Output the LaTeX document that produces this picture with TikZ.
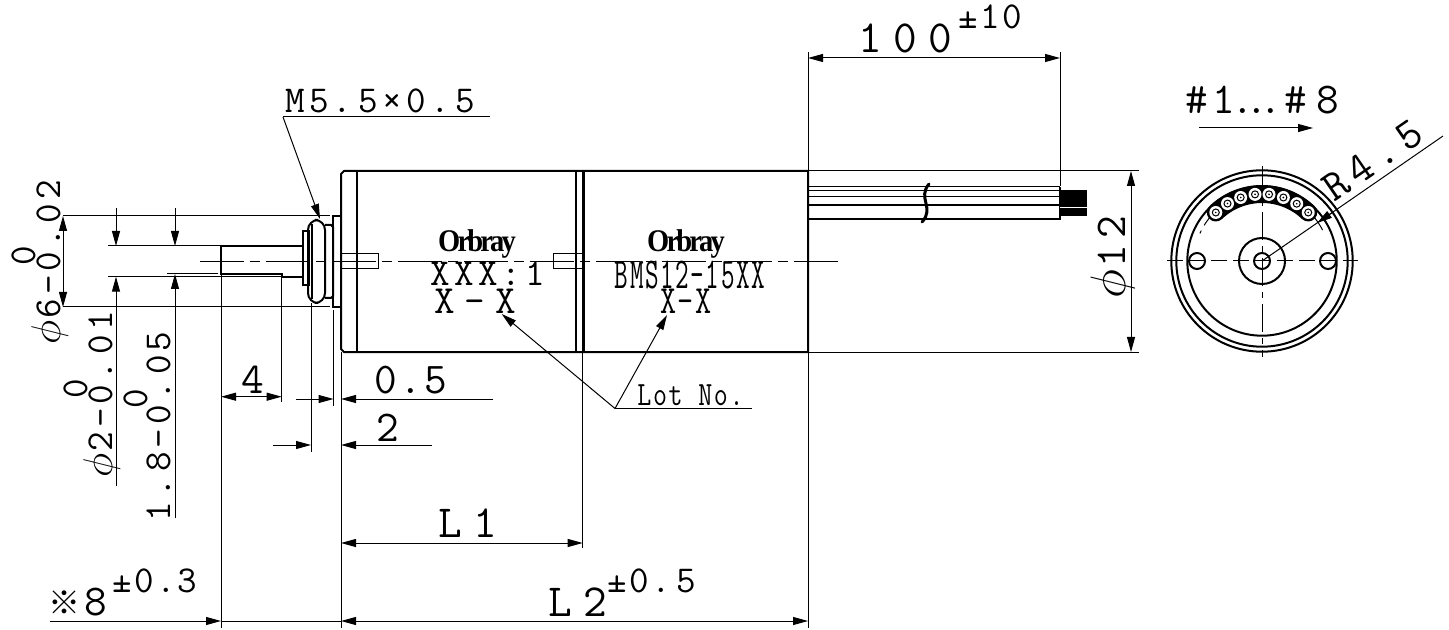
\documentclass[tikz,border=0pt]{standalone}
\usepackage{fontspec}
\usetikzlibrary{arrows.meta}
\newfontfamily\logofont[LetterSpace=-10]{Liberation Serif}
\newfontfamily\markfont{Noto Sans CJK JP}
\newfontfamily\cadfont[LetterSpace=6]{lmmono12-regular.otf}
\newfontfamily\cadside[LetterSpace=11]{lmmono12-regular.otf}
\newfontfamily\cadmid[LetterSpace=15]{lmmono12-regular.otf}
\newfontfamily\cadwide[LetterSpace=25]{lmmono12-regular.otf}
\newcommand{\diasign}{\scalebox{1.2}{$\phi$}\kern1pt}
\tikzset{
  outline/.style={black, line width=1pt},
  thinline/.style={black, line width=0.5pt},
  wireline/.style={black, line width=0.8pt},
  centerline/.style={black, line width=0.4pt, dash pattern=on 22pt off 3pt on 5pt off 3pt},
  dimtext/.style={font=\cadfont\fontsize{22}{22}\selectfont, inner sep=0pt},
  midtext/.style={font=\cadmid\fontsize{22}{22}\selectfont, inner sep=0pt},
  widetext/.style={font=\cadwide\fontsize{23}{23}\selectfont, inner sep=0pt},
  sidetext/.style={font=\cadside\fontsize{19}{19}\selectfont, inner sep=0pt},
  toltext/.style={font=\cadfont\fontsize{19}{19}\selectfont, inner sep=0pt},
  logotext/.style={font=\logofont\bfseries\fontsize{15}{15}\selectfont, inner sep=0pt},
  >={Triangle[length=7.5pt,width=4pt]}
}
\begin{document}
\begin{tikzpicture}[x=0.5pt, y=-0.5pt]
            \useasboundingbox (0,0) rectangle (1449,630);
            % motor body
            \draw[outline] (344,171) -- (341,174) -- (341,349) -- (344,352) -- (808,352) -- (808,171) -- cycle;
            \draw[outline] (357,171) -- (357,352);
            \draw[outline] (575.7,171) -- (575.7,352);
            \draw[outline] (584,171) -- (584,352);
            \draw[thinline] (582.7,171) -- (582.7,548);
            \draw[thinline] (341,254) rectangle (378,269);
            \draw[thinline] (553,254) rectangle (583,269);
            % shaft and nut
            \draw[outline] (303,246) -- (221,246) -- (221,274) -- (281.7,274) -- (281.7,277) -- (303,277);
            \draw[line width=1.4pt] (221,246) -- (221,274);
            \draw[outline] (303,231) rectangle (309,285);
            \draw[outline, rounded corners=5] (308,220) rectangle (325,303);
            \draw[outline] (312,224) -- (312,299);
            \draw[outline] (325,225) -- (331,225) -- (333,227) -- (333,296) -- (331,298) -- (325,298);
            \draw[outline] (333,216) rectangle (341,307);
            % lead wires
            \draw[wireline] (808,186.7) -- (1060,186.7);
            \draw[wireline] (808,190.7) -- (1060,190.7);
            \draw[wireline] (808,196.7) -- (1060,196.7);
            \draw[wireline] (808,205) -- (1060,205);
            \draw[wireline] (808,219) -- (1060,219) -- (1060,186.7);
            \fill[black] (1060,190) rectangle (1087,216);
            \draw[white, line width=0.5pt] (1060,207.5) -- (1087,207.5);
            \draw[black, line width=1.5pt, line cap=round] (929,184) .. controls (917,198) and (935,208) .. (922,222);
            % centre line
            \draw[centerline] (200,261.5) -- (838,261.5);
            % texts on the body
            \node[logotext] (logoa) at (477,244) {\scalebox{0.95}[1.05]{Orbray}};
            \node[logotext] (logob) at (686,244) {\scalebox{0.95}[1.05]{Orbray}};
            \node[sidetext] (ratio) at (488,274) {XXX:1};
            \node[font=\cadwide\fontsize{20}{20}\selectfont, inner sep=0pt] (lota) at (475,301) {X–X};
            \node[dimtext] (model) at (690,275) {\scalebox{0.6}[1]{BMS12–15XX}};
            \node[font=\cadfont\fontsize{20}{20}\selectfont, inner sep=0pt] (lotb) at (686,301) {\scalebox{0.78}[1]{X-X}};
            % lot number leaders
            \coordinate (lot) at (615,408.5);
            \node[font=\cadfont\fontsize{17}{17}\selectfont, inner sep=0pt, anchor=base west] (lotno) at (637,405) {\scalebox{0.8}[1]{Lot No.}};
            \draw[thinline] (lot) -- (752,408.5);
            \draw[thinline, ->] (lot) -- (501.7,314);
            \draw[thinline, ->] (lot) -- (667,315);
            % thread leader
            \coordinate (thread) at (283,117);
            \node[sidetext, anchor=base west] (threadlabel) at (285,113) {M5.\,5×0.\,5};
            \draw[thinline] (thread) -- (490,117);
            \draw[thinline, ->] (thread) -- (320,219);
            % extension lines
            \draw[thinline] (63,216) -- (330,216);
            \draw[thinline] (63,307) -- (330,307);
            \draw[thinline] (108,246) -- (221,246);
            \draw[thinline] (108,276.7) -- (281,276.7);
            \draw[thinline] (167,274) -- (218,274);
            \draw[thinline] (221,274) -- (221,628);
            \draw[thinline] (281.7,277) -- (281.7,402);
            \draw[thinline] (311,303) -- (311,452);
            \draw[thinline] (333.5,310) -- (333.5,406);
            \draw[thinline] (341,352) -- (341,628);
            \draw[thinline] (808,352) -- (808,628);
            \draw[thinline] (808,52) -- (808,171);
            \draw[thinline] (1060,52) -- (1060,186);
            \draw[thinline] (808,171) -- (1139,171);
            \draw[thinline] (808,352) -- (1139,352);
            % dimensions left
            \draw[thinline, <->] (63,216) -- (63,307);
            \draw[thinline, ->] (116,208) -- (116,246);
            \draw[thinline, ->] (116,486) -- (116,276.7);
            \draw[thinline, ->] (175,208) -- (175,246);
            \draw[thinline, ->] (175,518) -- (175,274);
            \node[sidetext, rotate=90, anchor=base west] (dsix) at (60,345) {\diasign 6–0.02};
            \node[sidetext, rotate=90, anchor=base west] (dsixz) at (35,266) {0};
            \node[sidetext, rotate=90, anchor=base west] (dtwo) at (112,478) {\diasign 2–0.\,01};
            \node[sidetext, rotate=90, anchor=base west] (dtwoz) at (87,399) {0};
            \node[sidetext, rotate=90, anchor=base west] (flat) at (170,522) {1.\,8–0.\,05};
            \node[sidetext, rotate=90, anchor=base west] (flatz) at (147,409) {0};
            % dimensions below
            \draw[thinline, <->] (221,396.7) -- (281.7,396.7);
            \node[dimtext] (four) at (253,380) {4};
            \draw[thinline, ->] (296,399) -- (333.5,399);
            \draw[thinline, ->] (493,399) -- (341,399);
            \node[dimtext] (nutgap) at (411,380) {0.5};
            \draw[thinline, ->] (273,445) -- (311,445);
            \draw[thinline, ->] (432,445) -- (341,445);
            \node[dimtext] (nutlen) at (388,428) {2};
            \draw[thinline, <->] (341,543) -- (582.7,543);
            \node[widetext, anchor=base west] (lone) at (438,537) {L1};
            \draw[thinline, ->] (50,621) -- (221,621);
            \draw[thinline] (221,621) -- (341,621);
            \draw[thinline, <->] (341,621) -- (808,621);
            \node[font=\markfont\fontsize{16}{16}\selectfont, inner sep=0pt] (mark) at (64,603) {※};
            \node[dimtext, anchor=base west] (eight) at (84,615) {8};
            \node[toltext, anchor=base west] (eighttol) at (112,592) {±0.3};
            \node[widetext, anchor=base west] (ltwo) at (548,616) {L2};
            \node[toltext, anchor=base west] (ltwotol) at (607,592) {±0.\,5};
            % dimensions above and right
            \draw[thinline, <->] (808,58) -- (1060,58);
            \node[widetext, anchor=base west] (wirelen) at (858,53) {100};
            \node[toltext, anchor=base west] (wiretol) at (958,29) {±10};
            \draw[thinline, <->] (1131,171) -- (1131,352);
            \node[midtext, rotate=90, anchor=base west] (dia) at (1125,299) {\diasign 12};
            \node[dimtext, anchor=base west] (wirenos) at (1185,114) {\#\kern2pt 1\kern-1.5pt.\kern-4.5pt.\kern-4.5pt.\#\kern4.5pt 8};
            \draw[thinline, ->] (1199,128) -- (1313,128);
            % end view
            \begin{scope}[shift={(1262,261)}, x=0.5pt, y=0.5pt]
                \draw[thinline, dash pattern=on 8pt off 3pt] (-95,0) -- (96,0);
                \draw[thinline, dash pattern=on 14pt off 3pt on 3pt off 3pt] (0,95) -- (0,-96);
                \draw[outline] (0,0) circle (90.7);
                \draw[outline] (0,0) circle (85.7);
                \draw[outline] (0,0) circle (74.7);
                \draw[outline] (0,0) circle (23);
                \draw[outline] (0,0) circle (8);
                \draw[outline] (-65,0) circle (8);
                \draw[outline] (66,0) circle (8);
                \draw[thinline, dash pattern=on 8pt off 3pt on 2pt off 3pt] (27:68) arc (27:156:68);
                \draw[black, line width=9pt, line cap=round] (46.4:67) arc (46.4:133.6:67);
                \foreach \a in {46.4,58.8,71.4,84,96,108.6,121,133.6} {
                    \fill[white] (\a:67) circle (6.5);
                    \draw[black, line width=0.5pt] (\a:67) circle (3.5);
                    \fill[black] (\a:67) circle (0.9);
                }
                \coordinate (hubcentre) at (0,0);
                \coordinate (radiusend) at (181,125);
                \draw[thinline] (hubcentre) -- (radiusend);
                \draw[thinline, ->] (34.6:86) -- (34.6:67);
                \node[midtext, rotate=34.6, anchor=base west] (radius) at (72,58) {R4.\,5};
            \end{scope}
        \end{tikzpicture}
\end{document}
